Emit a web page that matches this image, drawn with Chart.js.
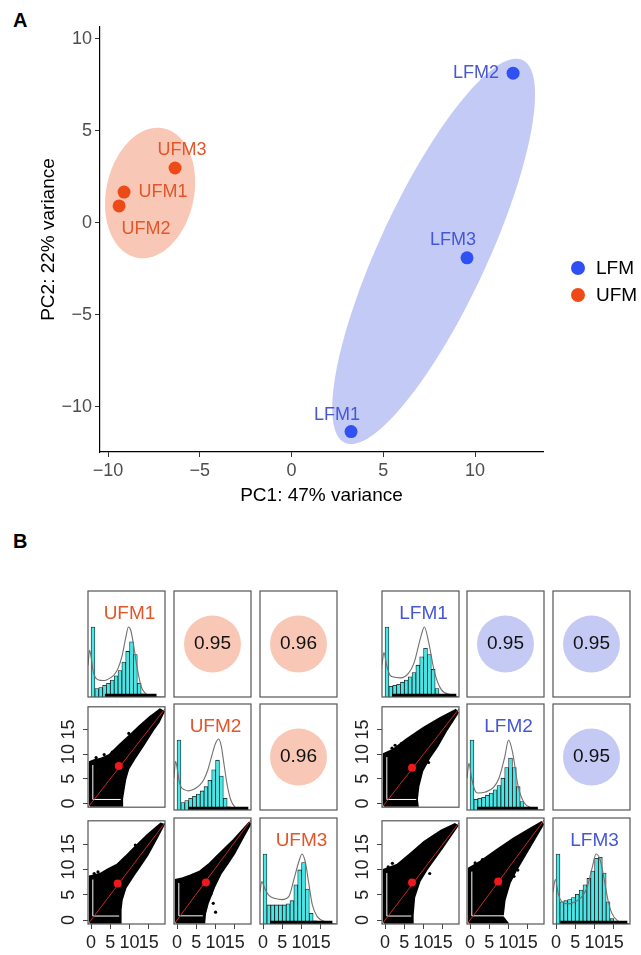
<!DOCTYPE html>
<html>
<head>
<meta charset="utf-8">
<script src="https://cdn.jsdelivr.net/npm/chart.js@4"></script>
<style>
  body { margin: 0; background: #fff; width: 641px; height: 955px; position: relative; overflow: hidden;
         font-family: "Liberation Sans", Arial, Helvetica, sans-serif; }
  canvas { position: absolute; }
  .tag { position: absolute; font-weight: bold; font-size: 20px; line-height: 20px; color: #000; }
</style>
</head>
<body>
<div class="tag" style="left:13px;top:10px">A</div>
<div class="tag" style="left:13px;top:531px">B</div>
<script>
const FONT = "'Liberation Sans', Arial, Helvetica, sans-serif";

// ---- panel A: PCA ----
const lfmNames = ["LFM1", "LFM2", "LFM3"];
const lfmPC1 = [3.24, 12.07, 9.56];
const lfmPC2 = [-11.35, 8.12, -1.91];
const ufmNames = ["UFM1", "UFM2", "UFM3"];
const ufmPC1 = [-9.13, -9.4, -6.35];
const ufmPC2 = [1.66, 0.91, 2.97];
// group ellipses: centre x, centre y, semi-major, semi-minor, angle (deg)
const lfmEllipse = [7.74, -1.56, 11.47, 2.93, 65];
const ufmEllipse = [-7.71, 1.61, 3.59, 2.39, 78];
const pcTicks = [-10, -5, 0, 5, 10];

// ---- panel B: pairs plots ----
const pairTicks = [0, 5, 10, 15];
const binStarts = [0, 1, 2, 3, 4, 5, 6, 7, 8, 9, 10, 11, 12, 13, 14, 15];
const binWidth = 1;

const histUFM1 = [0.66, 0.08, 0.09, 0.11, 0.13, 0.16, 0.20, 0.25, 0.33, 0.43, 0.52, 0.40, 0.13, 0.03, 0.01];
const histUFM2 = [0.66, 0.07, 0.09, 0.11, 0.13, 0.15, 0.18, 0.22, 0.28, 0.38, 0.47, 0.32, 0.11, 0.03, 0.01];
const histUFM3 = [0.66, 0.18, 0.18, 0.18, 0.18, 0.18, 0.19, 0.22, 0.37, 0.51, 0.58, 0.33, 0.10, 0.03, 0.01];
const histLFM1 = [0.66, 0.10, 0.11, 0.12, 0.14, 0.16, 0.19, 0.23, 0.30, 0.38, 0.46, 0.40, 0.26, 0.08, 0.02];
const histLFM2 = [0.66, 0.10, 0.11, 0.12, 0.14, 0.16, 0.19, 0.23, 0.30, 0.40, 0.49, 0.40, 0.22, 0.08, 0.02];
const histLFM3 = [0.66, 0.21, 0.22, 0.23, 0.25, 0.28, 0.32, 0.37, 0.43, 0.50, 0.62, 0.63, 0.48, 0.21, 0.05, 0.01];

const densUFM1X = [-0.8, -0.4, 0, 0.5, 1, 2, 3, 4, 5, 6, 7, 8, 9, 9.7, 10.3, 11, 12, 13, 14, 15, 16, 17, 19];
const densUFM1Y = [0.30, 0.44, 0.38, 0.25, 0.19, 0.16, 0.155, 0.16, 0.18, 0.21, 0.27, 0.38, 0.56, 0.66, 0.63, 0.50, 0.27, 0.10, 0.04, 0.015, 0.005, 0.002, 0];
const densUFM2X = [-0.8, -0.4, 0, 0.5, 1, 2, 3, 4, 5, 6, 7, 8, 9, 10, 10.8, 11.5, 12, 13, 14, 15, 16, 17, 19];
const densUFM2Y = [0.30, 0.46, 0.40, 0.28, 0.22, 0.19, 0.18, 0.19, 0.21, 0.24, 0.29, 0.38, 0.51, 0.63, 0.67, 0.60, 0.48, 0.24, 0.09, 0.03, 0.01, 0.003, 0];
const densUFM3X = [-0.8, -0.35, 0.5, 1.5, 3.2, 4.9, 6.7, 8, 9.3, 10.1, 11, 11.8, 12.8, 14.1, 16.3, 19];
const densUFM3Y = [0.30, 0.40, 0.33, 0.27, 0.24, 0.23, 0.26, 0.42, 0.59, 0.66, 0.58, 0.40, 0.18, 0.07, 0.02, 0];
const densLFM1X = [-0.8, -0.3, 0.4, 1.2, 2, 4, 6, 7.5, 9.3, 10.2, 11.3, 12.8, 14.6, 17.2, 19];
const densLFM1Y = [0.30, 0.42, 0.30, 0.21, 0.19, 0.18, 0.22, 0.32, 0.57, 0.66, 0.52, 0.24, 0.07, 0.02, 0];
const densLFM2X = [-0.8, -0.3, 0.4, 1.2, 2, 4, 6, 7.5, 9, 10, 11, 12.5, 14, 16, 19];
const densLFM2Y = [0.30, 0.44, 0.30, 0.19, 0.16, 0.17, 0.21, 0.30, 0.50, 0.66, 0.55, 0.22, 0.07, 0.02, 0];
const densLFM3X = [-0.8, -0.2, 0.6, 1.5, 3, 5, 6.5, 8, 9.3, 10.4, 11.5, 12.5, 13.5, 14.5, 16, 19];
const densLFM3Y = [0.30, 0.42, 0.28, 0.21, 0.19, 0.21, 0.25, 0.34, 0.52, 0.66, 0.60, 0.42, 0.22, 0.10, 0.03, 0];

// rug extent along the bottom of each histogram
const rugUFM = [[3.6, 17], [3, 18.5], [1.8, 18]];
const rugLFM = [[1.8, 18.5], [1.8, 17.6], [1.1, 18.5]];

// correlations: (1,2), (1,3), (2,3)
const corUFM = [0.95, 0.96, 0.96];
const corLFM = [0.95, 0.95, 0.95];

// outline of the dense point cloud in each scatter panel: (2,1), (3,1), (3,2)
const cloudUFM21 = [[-0.25,-0.45],[-0.25,8.4],[0.8,8.7],[2.5,9.0],[4.8,9.8],[7.4,11.8],[10,13.7],[12.6,15.6],[15.3,17.5],[17.9,19.0],[18.8,18.6],[17.5,16.5],[16.1,15.0],[13.5,11.8],[11.3,9.2],[9.6,7.0],[8.8,4.8],[8.4,2.9],[8.0,1.0],[8.0,-0.45]];
const cloudUFM31 = [[-0.25,-0.45],[-0.25,8.6],[1,8.8],[2.4,9.1],[4.5,10],[6.8,10.9],[9,12.5],[11.1,14.1],[14.6,16.7],[18.1,19.0],[18.8,18.8],[17,16.2],[14.6,12.9],[12.5,10.5],[11.1,9.0],[8.9,6.4],[7.9,4.0],[7.6,2.0],[7.6,-0.45]];
const cloudUFM32 = [[-0.25,-0.45],[-0.25,7.7],[1.5,8.0],[3.5,8.5],[6.0,9.3],[8.2,10.6],[10.4,12.2],[12.6,13.8],[14.8,15.4],[18.7,18.6],[19,18.5],[17,15.8],[14.8,12.8],[13,10.8],[11.3,9.0],[9.6,6.4],[7.9,3.2],[7.2,1.2],[7.0,-0.45]];
const cloudLFM21 = [[-0.25,-0.45],[-0.25,10],[2,10.8],[5.7,13],[10,15.3],[14.4,17.3],[18.3,18.9],[18.8,18.4],[16,15],[13.5,11.6],[11.4,9.2],[9.6,6.6],[8.6,3.5],[8.2,0.8],[8.4,-0.45]];
const cloudLFM31 = [[-0.25,-0.45],[-0.25,9.9],[3.2,10.9],[6.7,13.1],[10.2,15.4],[14.6,17.6],[18.1,18.9],[18.7,18.6],[14.6,14.1],[11,10.3],[8.9,7.7],[7.5,4.5],[7.1,1],[7.1,-0.45]];
const cloudLFM32 = [[-0.25,-0.45],[-0.25,9.9],[2.7,11.2],[7.1,13.5],[11.5,15.7],[15.9,17.6],[18.5,18.7],[18.9,18.4],[15,13.5],[11.9,9.6],[10.2,7.1],[8.9,3.8],[8.4,0.6],[9.5,-0.45]];

const outUFM21 = [[1.3,9.3],[3.4,9.9],[5.5,10.4],[9.8,14.2]];
const outUFM31 = [[0.8,9.2],[1.8,9.5],[11.5,14.8]];
const outUFM32 = [[9.4,3.2],[10,1.5],[8.8,5.0]];
const outLFM21 = [[1.8,11.2],[2.6,11.8],[4.3,12.2],[11.3,8.3]];
const outLFM31 = [[0.8,10.5],[1.9,11.2],[11.6,9.2]];
const outLFM32 = [[1.3,11.0],[3.2,11.6],[11.4,8.4],[12.4,9.6]];

// centroid (red dot) of each scatter panel
const meanUFM = [[7.2,7.6],[6.9,7.2],[7.5,7.2]];
const meanLFM = [[7.0,7.25],[7.0,7.4],[7.3,7.4]];

// ---- setup ----
Chart.defaults.font.family = FONT;
Chart.defaults.animation = false;
Chart.defaults.responsive = false;
Chart.defaults.events = [];
Chart.defaults.layout.autoPadding = false;
Chart.defaults.plugins.legend.display = false;
Chart.defaults.plugins.tooltip.enabled = false;

function addCanvas(id, left, top, w, h) {
  const c = document.createElement("canvas");
  c.id = id;
  c.width = w; c.height = h;
  c.style.left = left + "px"; c.style.top = top + "px";
  c.style.width = w + "px"; c.style.height = h + "px";
  document.body.appendChild(c);
  return c;
}
const minus = v => String(v).replace("-", "\u2212");

// ---- panel A ----
const ellipsePlugin = {
  id: "ellipses",
  beforeDatasetsDraw(chart, args, opts) {
    const { ctx, scales: { x, y } } = chart;
    ctx.save();
    opts.items.forEach(e => {
      const [cx, cy, a, b, deg] = e.p;
      const t = deg * Math.PI / 180;
      ctx.beginPath();
      for (let k = 0; k <= 120; k++) {
        const s = k / 120 * 2 * Math.PI;
        const dx = a * Math.cos(s), dy = b * Math.sin(s);
        const px = x.getPixelForValue(cx + dx * Math.cos(t) - dy * Math.sin(t));
        const py = y.getPixelForValue(cy + dx * Math.sin(t) + dy * Math.cos(t));
        if (k) ctx.lineTo(px, py); else ctx.moveTo(px, py);
      }
      ctx.closePath();
      ctx.fillStyle = e.color;
      ctx.fill();
    });
    ctx.restore();
  }
};

const pointLabelPlugin = {
  id: "pointLabels",
  afterDatasetsDraw(chart, args, opts) {
    const ctx = chart.ctx;
    ctx.save();
    ctx.font = "18px " + FONT;
    ctx.textAlign = "center";
    ctx.textBaseline = "middle";
    chart.data.datasets.forEach((ds, i) => {
      chart.getDatasetMeta(i).data.forEach((pt, j) => {
        const name = ds.names[j];
        const [dx, dy] = opts.nudge[name];
        ctx.fillStyle = ds.labelColor;
        ctx.fillText(name, pt.x + dx, pt.y + dy);
      });
    });
    ctx.restore();
  }
};

const pcaLegend = {
  id: "pcaLegend",
  afterDraw(chart, args, opts) {
    const ctx = chart.ctx;
    ctx.save();
    ctx.font = "19px " + FONT;
    ctx.textBaseline = "middle";
    ctx.textAlign = "left";
    chart.data.datasets.forEach((ds, i) => {
      const y = opts.y + i * opts.gap;
      ctx.fillStyle = ds.backgroundColor;
      ctx.beginPath(); ctx.arc(opts.x, y, 7, 0, Math.PI * 2); ctx.fill();
      ctx.fillStyle = "#000";
      ctx.fillText(ds.label, opts.x + 18, y + 1);
    });
    ctx.restore();
  }
};

new Chart(addCanvas("pca", 0, 0, 641, 520), {
  type: "scatter",
  data: {
    datasets: [
      { label: "LFM", names: lfmNames, labelColor: "#4657D6",
        data: lfmPC1.map((x, i) => ({ x, y: lfmPC2[i] })),
        backgroundColor: "#2F50F2", pointRadius: 6.5, borderWidth: 0 },
      { label: "UFM", names: ufmNames, labelColor: "#E2562A",
        data: ufmPC1.map((x, i) => ({ x, y: ufmPC2[i] })),
        backgroundColor: "#EE4A18", pointRadius: 6.5, borderWidth: 0 }
    ]
  },
  options: {
    layout: { padding: { top: 27, right: 98, bottom: 8, left: 0 } },
    plugins: {
      ellipses: { items: [ { p: lfmEllipse, color: "#C3CAF6" }, { p: ufmEllipse, color: "#F9C7B5" } ] },
      pointLabels: { nudge: { UFM1: [39, 0], UFM2: [27, 23], UFM3: [7, -18],
                              LFM1: [-14, -17], LFM2: [-37, 0], LFM3: [-14, -18] } },
      pcaLegend: { x: 578, y: 268, gap: 27 }
    },
    scales: {
      x: {
        type: "linear", min: -10.44, max: 13.7,
        afterFit: s => { s.height = 60; },
        afterBuildTicks: s => { s.ticks = pcTicks.map(v => ({ value: v })); },
        ticks: { font: { size: 18 }, color: "#4D4D4D", padding: 3, maxRotation: 0, callback: minus },
        grid: { drawOnChartArea: false, tickLength: 5, color: "#333" },
        border: { color: "#000", width: 1.2 },
        title: { display: true, text: "PC1: 47% variance", font: { size: 19 }, color: "#000",
                 padding: { top: 0, bottom: 5 } }
      },
      y: {
        type: "linear", min: -12.46, max: 10.63,
        afterFit: s => { s.width = 100; },
        afterBuildTicks: s => { s.ticks = pcTicks.map(v => ({ value: v })); },
        ticks: { font: { size: 18 }, color: "#4D4D4D", padding: 3, callback: minus },
        grid: { drawOnChartArea: false, tickLength: 5, color: "#333" },
        border: { color: "#000", width: 1.2 },
        title: { display: true, text: "PC2: 22% variance", font: { size: 19 }, color: "#000",
                 padding: { top: 37, bottom: 0 } }
      }
    }
  },
  plugins: [ellipsePlugin, pointLabelPlugin, pcaLegend]
});

// ---- panel B ----
const PW = 77, PH = 106;
const leftCols = [88, 174, 260];
const rightCols = [382, 467, 553];
const rowTops = [591, 704, 818];
const X_RANGE = [-0.8, 19.2];
const Y_RANGE = [-0.77, 19.6];

const boxPlugin = {
  id: "box",
  afterDatasetsDraw(chart) {
    const { ctx, chartArea: a } = chart;
    ctx.save();
    ctx.strokeStyle = "#555";
    ctx.lineWidth = 1.2;
    ctx.strokeRect(a.left, a.top, a.right - a.left, a.bottom - a.top);
    ctx.restore();
  }
};

const tagPlugin = {
  id: "tag",
  afterDatasetsDraw(chart, args, o) {
    if (!o || !o.text) return;
    const { ctx, chartArea: a } = chart;
    let x, y;
    if (o.mode === "point") {
      const el = chart.getDatasetMeta(0).data[0];
      x = el.x; y = el.y;
    } else {
      x = (a.left + a.right) / 2 + 3; y = a.top + 23;
    }
    ctx.save();
    ctx.font = "19px " + FONT;
    ctx.fillStyle = o.color;
    ctx.textAlign = "center";
    ctx.textBaseline = "middle";
    ctx.fillText(o.text, x, y);
    ctx.restore();
  }
};

function pairPanel(id, left, top, r, c, datasets, yRange, tag) {
  const axL = (c === 0 && r > 0) ? 30 : 0;
  const axB = r === 2 ? 34 : 0;
  const M = 12;
  const cv = addCanvas(id, left - axL - M, top - M, PW + axL + 2 * M, PH + axB + 2 * M);
  return new Chart(cv, {
    type: "scatter",
    data: { datasets },
    options: {
      layout: { padding: M },
      plugins: { tag: tag || {} },
      scales: {
        x: {
          type: "linear", min: X_RANGE[0], max: X_RANGE[1], display: axB > 0, offset: false,
          afterFit: s => { s.height = axB; },
          afterBuildTicks: s => { s.ticks = pairTicks.map(v => ({ value: v })); },
          ticks: { autoSkip: false, maxRotation: 0, font: { size: 18 }, color: "#222", padding: 3 },
          grid: { drawOnChartArea: false, tickLength: 5, color: "#444", offset: false },
          border: { display: false }
        },
        y: {
          type: "linear", min: yRange[0], max: yRange[1], display: axL > 0,
          afterFit: s => { s.width = axL; },
          afterBuildTicks: s => { s.ticks = pairTicks.map(v => ({ value: v })); },
          ticks: { autoSkip: false, minRotation: 90, maxRotation: 90, crossAlign: "center",
                   font: { size: 18 }, color: "#222", padding: 4 },
          grid: { drawOnChartArea: false, tickLength: 5, color: "#444" },
          border: { display: false }
        }
      }
    },
    plugins: [boxPlugin, tagPlugin]
  });
}

function histDatasets(hist, dx, dy, rug) {
  return [
    { type: "line", data: [{ x: rug[0], y: 0.015 }, { x: rug[1], y: 0.015 }],
      borderColor: "#000", borderWidth: 3.5, pointRadius: 0, order: 0, clip: 0 },
    { type: "line", data: dx.map((x, i) => ({ x, y: dy[i] })),
      borderColor: "#707070", borderWidth: 1.1, pointRadius: 0, cubicInterpolationMode: "monotone",
      fill: false, order: 1, clip: 0 },
    { type: "bar", data: hist.map((h, k) => ({ x: binStarts[k] + binWidth / 2, y: h })),
      backgroundColor: "#48E6E6", borderColor: "#1a1a1a", borderWidth: 0.8,
      barPercentage: 1, categoryPercentage: 1, order: 2 }
  ];
}

function corDatasets(fill) {
  return [
    { type: "scatter", data: [{ x: (X_RANGE[0] + X_RANGE[1]) / 2, y: 0.5 }],
      pointRadius: 28.5, backgroundColor: fill, borderWidth: 0 }
  ];
}

function scatterDatasets(cloud, mean, outs) {
  const poly = cloud.concat([cloud[0]]).map(([x, y]) => ({ x, y }));
  const stripTop = cloud[1][1], bandEnd = cloud[cloud.length - 1][0];
  return [
    { type: "scatter", data: [{ x: mean[0], y: mean[1] }], pointRadius: 4,
      backgroundColor: "#F01818", borderWidth: 0, order: 0 },
    { type: "line", data: [{ x: X_RANGE[0], y: X_RANGE[0] }, { x: X_RANGE[1], y: X_RANGE[1] }],
      borderColor: "#C62828", borderWidth: 1, pointRadius: 0, order: 1, clip: 0 },
    { type: "line", data: [{ x: 0.45, y: 0.8 }, { x: bandEnd - 0.3, y: 0.8 }],
      borderColor: "#fff", borderWidth: 1, pointRadius: 0, order: 2, clip: 0 },
    { type: "line", data: [{ x: 0.45, y: 0.8 }, { x: 0.45, y: stripTop - 0.6 }],
      borderColor: "#fff", borderWidth: 1, pointRadius: 0, order: 2, clip: 0 },
    { type: "scatter", data: outs.map(([x, y]) => ({ x, y })), pointRadius: 1.6,
      backgroundColor: "#000", borderWidth: 0, order: 3 },
    { type: "line", data: poly, fill: "shape", backgroundColor: "#000", borderColor: "#000",
      borderWidth: 2.5, pointRadius: 0, order: 4, clip: 0 }
  ];
}

function buildGrid(prefix, cols, names, color, pale, hists, dX, dY, rugs, cors, clouds, means, outs) {
  for (let i = 0; i < 3; i++) {
    pairPanel(prefix + "d" + i, cols[i], rowTops[i], i, i, histDatasets(hists[i], dX[i], dY[i], rugs[i]),
              [0, 1], { text: names[i], color, mode: "top" });
  }
  [[0, 1], [0, 2], [1, 2]].forEach(([r, c], k) => {
    pairPanel(prefix + "u" + k, cols[c], rowTops[r], r, c, corDatasets(pale),
              [0, 1], { text: cors[k].toFixed(2), color: "#111", mode: "point" });
  });
  [[1, 0], [2, 0], [2, 1]].forEach(([r, c], k) => {
    pairPanel(prefix + "l" + k, cols[c], rowTops[r], r, c, scatterDatasets(clouds[k], means[k], outs[k]),
              Y_RANGE, null);
  });
}

buildGrid("u", leftCols, ufmNames, "#E2562A", "#F9C7B5",
          [histUFM1, histUFM2, histUFM3], [densUFM1X, densUFM2X, densUFM3X], [densUFM1Y, densUFM2Y, densUFM3Y],
          rugUFM, corUFM, [cloudUFM21, cloudUFM31, cloudUFM32], meanUFM, [outUFM21, outUFM31, outUFM32]);
buildGrid("l", rightCols, lfmNames, "#4657D6", "#C5CAF4",
          [histLFM1, histLFM2, histLFM3], [densLFM1X, densLFM2X, densLFM3X], [densLFM1Y, densLFM2Y, densLFM3Y],
          rugLFM, corLFM, [cloudLFM21, cloudLFM31, cloudLFM32], meanLFM, [outLFM21, outLFM31, outLFM32]);
</script>
</body>
</html>
